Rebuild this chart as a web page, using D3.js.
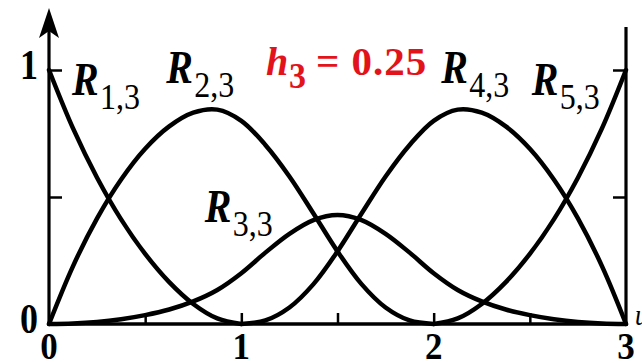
<!DOCTYPE html>
<html>
<head>
<meta charset="utf-8">
<script src="https://cdn.jsdelivr.net/npm/d3@7"></script>
<style>
  html, body { margin: 0; padding: 0; background: #fff; overflow: hidden; }
  svg { display: block; }
  svg text { font-family: "Liberation Serif", "Times New Roman", Times, serif; }
</style>
</head>
<body>
<script>
// Rational quadratic basis functions R_{i,3} on [0, 3], sampled every 0.125
const xs = [0, 0.125, 0.25, 0.375, 0.5, 0.625, 0.75, 0.875, 1,
            1.125, 1.25, 1.375, 1.5, 1.625, 1.75, 1.875, 2,
            2.125, 2.25, 2.375, 2.5, 2.625, 2.75, 2.875, 3];

const r1 = [1, 0.770, 0.576, 0.412, 0.276, 0.165, 0.079, 0.022, 0,
            0, 0, 0, 0, 0, 0, 0, 0, 0, 0, 0, 0, 0, 0, 0, 0];
const r2 = [0, 0.228, 0.416, 0.569, 0.690, 0.778, 0.832, 0.844, 0.800,
            0.705, 0.581, 0.435, 0.286, 0.157, 0.065, 0.014, 0,
            0, 0, 0, 0, 0, 0, 0, 0];
const r3 = [0, 0.002, 0.008, 0.019, 0.035, 0.057, 0.089, 0.134, 0.200,
            0.281, 0.355, 0.409, 0.429, 0.409, 0.355, 0.281, 0.200,
            0.134, 0.089, 0.057, 0.035, 0.019, 0.008, 0.002, 0];
const r4 = [0, 0, 0, 0, 0, 0, 0, 0, 0,
            0.014, 0.065, 0.157, 0.286, 0.435, 0.581, 0.705, 0.800,
            0.844, 0.832, 0.778, 0.690, 0.569, 0.416, 0.228, 0];
const r5 = [0, 0, 0, 0, 0, 0, 0, 0, 0, 0, 0, 0, 0, 0, 0, 0, 0,
            0.022, 0.079, 0.165, 0.276, 0.412, 0.576, 0.770, 1];

const seriesList = [r1, r2, r3, r4, r5];

const xTickMarks = [0.5, 1, 1.5, 2, 2.5];
const xTickLabels = [0, 1, 2, 3];
const yTickMarks = [0.5, 1];
const yTickLabels = [0, 1];

// Curve labels: [main letter, subscript, anchor x (data), anchor y (data)]
const curveLabels = [
  ["R", "1,3", 0.12, 0.90],
  ["R", "2,3", 0.61, 0.95],
  ["R", "3,3", 0.81, 0.40],
  ["R", "4,3", 2.04, 0.95],
  ["R", "5,3", 2.51, 0.90]
];

const W = 642, H = 363;
const svg = d3.select("body").append("svg").attr("width", W).attr("height", H);

const x = d3.scaleLinear().domain([0, 3]).range([49, 626]);
const y = d3.scaleLinear().domain([0, 1]).range([324, 70]);

const SY = 1.15; // vertical stretch of the lettering

function label(txt, px, py, opts) {
  return svg.append("text")
    .attr("transform", `translate(${px},${py}) scale(1,${opts.sy || SY})`)
    .style("font-size", opts.size + "px")
    .style("font-weight", opts.weight || "bold")
    .style("font-style", opts.style || "normal")
    .style("letter-spacing", (opts.spacing || 0) + "px")
    .attr("fill", opts.fill || "#000")
    .attr("text-anchor", opts.anchor || "start")
    .text(txt);
}

// Bottom axis with inward ticks
const xAxis = svg.append("g")
  .attr("transform", `translate(0,${y(0)})`)
  .call(d3.axisBottom(x).tickValues(xTickMarks).tickSize(-11).tickFormat("").tickSizeOuter(0));
xAxis.select(".domain").remove();
xAxis.selectAll(".tick line").attr("stroke", "#000").attr("stroke-width", 2.5);

svg.append("line")
  .attr("x1", x(0) - 1).attr("x2", x(3) + 1.5)
  .attr("y1", y(0)).attr("y2", y(0))
  .attr("stroke", "#000").attr("stroke-width", 3.5);

// Left axis with arrow
const yAxis = svg.append("g")
  .attr("transform", `translate(${x(0)},0)`)
  .call(d3.axisLeft(y).tickValues(yTickMarks).tickSize(-13).tickFormat("").tickSizeOuter(0));
yAxis.select(".domain").remove();
yAxis.selectAll(".tick line").attr("stroke", "#000").attr("stroke-width", 2.5);

svg.append("line")
  .attr("x1", x(0)).attr("x2", x(0))
  .attr("y1", y(0) + 1.5).attr("y2", 30)
  .attr("stroke", "#000").attr("stroke-width", 3.2);
svg.append("path")
  .attr("d", `M${x(0)},8 L${x(0) - 10},38 L${x(0)},31 L${x(0) + 10},38 Z`)
  .attr("fill", "#000");

// Right axis
const yAxisR = svg.append("g")
  .attr("transform", `translate(${x(3)},0)`)
  .call(d3.axisRight(y).tickValues(yTickMarks).tickSize(-13).tickFormat("").tickSizeOuter(0));
yAxisR.select(".domain").remove();
yAxisR.selectAll(".tick line").attr("stroke", "#000").attr("stroke-width", 2.5);

svg.append("line")
  .attr("x1", x(3)).attr("x2", x(3))
  .attr("y1", y(0) + 1.5).attr("y2", 27)
  .attr("stroke", "#000").attr("stroke-width", 3.2);

// Basis curves, each drawn over its own support (the rest lies on the axis)
const line = d3.line()
  .x(d => x(d[0]))
  .y(d => y(d[1]))
  .curve(d3.curveCatmullRom.alpha(0.5));

function support(vals) {
  const pts = xs.map((v, i) => [v, vals[i]]);
  let lo = 0, hi = pts.length - 1;
  while (lo < hi && vals[lo] === 0 && vals[lo + 1] === 0) lo++;
  while (hi > lo && vals[hi] === 0 && vals[hi - 1] === 0) hi--;
  return pts.slice(lo, hi + 1);
}

svg.append("g").selectAll("path")
  .data(seriesList)
  .join("path")
  .attr("d", d => line(support(d)))
  .attr("fill", "none")
  .attr("stroke", "#000")
  .attr("stroke-width", 4.5)
  .attr("stroke-linejoin", "round")
  .attr("stroke-linecap", "round");

// Tick labels
xTickLabels.forEach(v => label(String(v), x(v), 359, { size: 35, anchor: "middle", sy: 1.1 }));
yTickLabels.forEach(v => label(String(v), 38, y(v) + 9, { size: 36, anchor: "end" }));

// Curve labels
curveLabels.forEach(([main, sub, dx, dy]) => {
  const px = x(dx), py = y(dy);
  label(main, px, py, { size: 40, style: "italic" });
  label(sub, px + 28, py + 14, { size: 32, weight: "normal" });
});

// Parameter annotation
const red = "#e3131b";
label("h", 266, 75, { size: 40, style: "italic", fill: red, sy: 1.0 });
label("3", 289, 88, { size: 34, fill: red, sy: 1.05 });
label("= 0.25", 316, 75, { size: 41, fill: red, sy: 0.98, spacing: 1 });

// Abscissa variable name at the right edge
label("u", 635, 325, { size: 26, style: "italic", weight: "normal" });
</script>
</body>
</html>
